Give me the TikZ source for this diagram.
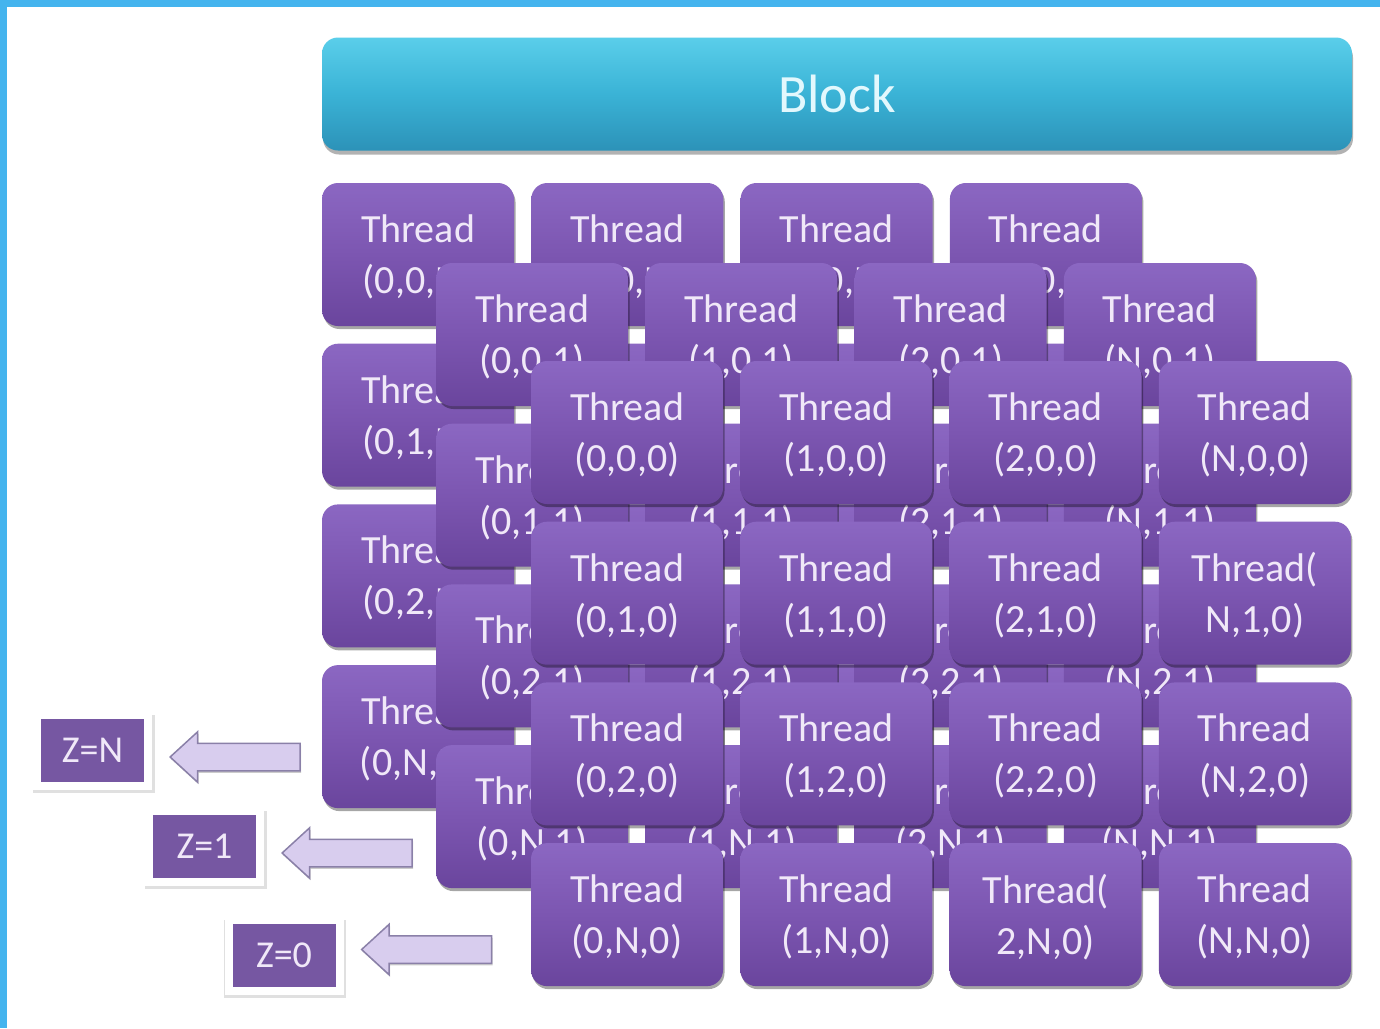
\documentclass[tikz,border=0pt]{standalone}
\usepackage{fontspec}
\setmainfont{Carlito}
\usetikzlibrary{positioning,shadows,shapes.arrows}
\definecolor{frameblue}{HTML}{44B4EE}
\definecolor{blocktop}{HTML}{5ACEEA}
\definecolor{blockmid}{HTML}{3AB3D6}
\definecolor{blockbot}{HTML}{2C92B8}
\definecolor{blocktext}{HTML}{E2F8FD}
\definecolor{thrtop}{HTML}{8B67C2}
\definecolor{thrmid}{HTML}{7C56B1}
\definecolor{thrbot}{HTML}{6A459D}
\definecolor{thrtext}{HTML}{F0E8F8}
\definecolor{zpurple}{HTML}{7657A2}
\definecolor{arrowfill}{HTML}{D8CDEE}
\definecolor{arrowline}{HTML}{8A80A8}

\begin{document}
\begin{tikzpicture}[x=1pt, y=-1pt,
    thread/.style={rounded corners=16pt, top color=thrtop, bottom color=thrbot, middle color=thrmid,
      minimum width=192pt, minimum height=143pt, inner sep=0pt, align=center, text=thrtext,
      font=\fontsize{40}{51}\selectfont, text depth=1pt,
      drop shadow={shadow xshift=1.5pt, shadow yshift=-3pt, opacity=0.35, fill=black}},
    block/.style={rounded corners=16pt, top color=blocktop, bottom color=blockbot, middle color=blockmid,
      minimum width=1030pt, minimum height=113pt, text=blocktext, font=\fontsize{54}{60}\selectfont,
      drop shadow={shadow xshift=1pt, shadow yshift=-4pt, opacity=0.3, fill=black}},
    zlabel/.style={fill=zpurple, draw=white, line width=8pt, minimum width=111pt, minimum height=71pt,
      inner sep=0pt, text=thrtext, font=\fontsize{38}{44}\selectfont,
      drop shadow={shadow xshift=1pt, shadow yshift=-3pt, shadow scale=1.1, opacity=0.12, fill=black}},
    zarrow/.style={single arrow, shape border rotate=180, fill=arrowfill, draw=arrowline, line width=1.5pt,
      minimum height=130pt, single arrow head extend=11.5pt, single arrow tip angle=85,
      inner xsep=0pt, inner ysep=13pt,
      drop shadow={shadow xshift=1pt, shadow yshift=-2pt, opacity=0.2, fill=black}}]
  \useasboundingbox (0,0) rectangle (1380,1028);
  \fill[white] (0,0) rectangle (1380,1028);
  \fill[frameblue] (0,0) rectangle (7,1028);
  \fill[frameblue] (0,0) rectangle (1380,7);

  \node[block] (block) at (837,94) {Block};

  % z = N
  \foreach \i/\xl in {0/0,1/1,2/2,3/N}
    \foreach \j/\yl in {0/0,1/1,2/2,3/N}
      \node[thread] (b\i\j) at (418+209.3*\i, 254.5+160.7*\j) {Thread\\(\xl,\yl,N)};
  % z = 1
  \foreach \i/\xl in {0/0,1/1,2/2,3/N}
    \foreach \j/\yl in {0/0,1/1,2/2,3/N}
      \node[thread] (m\i\j) at (532+209.3*\i, 334.5+160.7*\j) {Thread\\(\xl,\yl,1)};
  % z = 0
  \foreach \i/\xl in {0/0,1/1,2/2,3/N}
    \foreach \j/\yl in {0/0,1/1,2/2,3/N} {
      \ifnum\i\j=31 \def\thrtxt{Thread(\\\xl,\yl,0)}%
      \else\ifnum\i\j=23 \def\thrtxt{Thread(\\\xl,\yl,0)}%
      \else\def\thrtxt{Thread\\(\xl,\yl,0)}\fi\fi
      \node[thread] (f\i\j) at (627+209.3*\i, 432.5+160.7*\j) {\thrtxt};
    }

  \node[zlabel] (zN) at (92.5,750.5) {Z=N};
  \node[zlabel] (z1) at (204.5,846.5) {Z=1};
  \node[zlabel] (z0) at (284,955.5) {Z=0};

  \node[zarrow, anchor=tip] (aN) at ([xshift=17pt,yshift=-6.5pt]zN.east) {};
  \node[zarrow, anchor=tip] (a1) at ([xshift=17pt,yshift=-6.5pt]z1.east) {};
  \node[zarrow, anchor=tip] (a0) at ([xshift=17pt,yshift=6pt]z0.east) {};
\end{tikzpicture}
\end{document}
